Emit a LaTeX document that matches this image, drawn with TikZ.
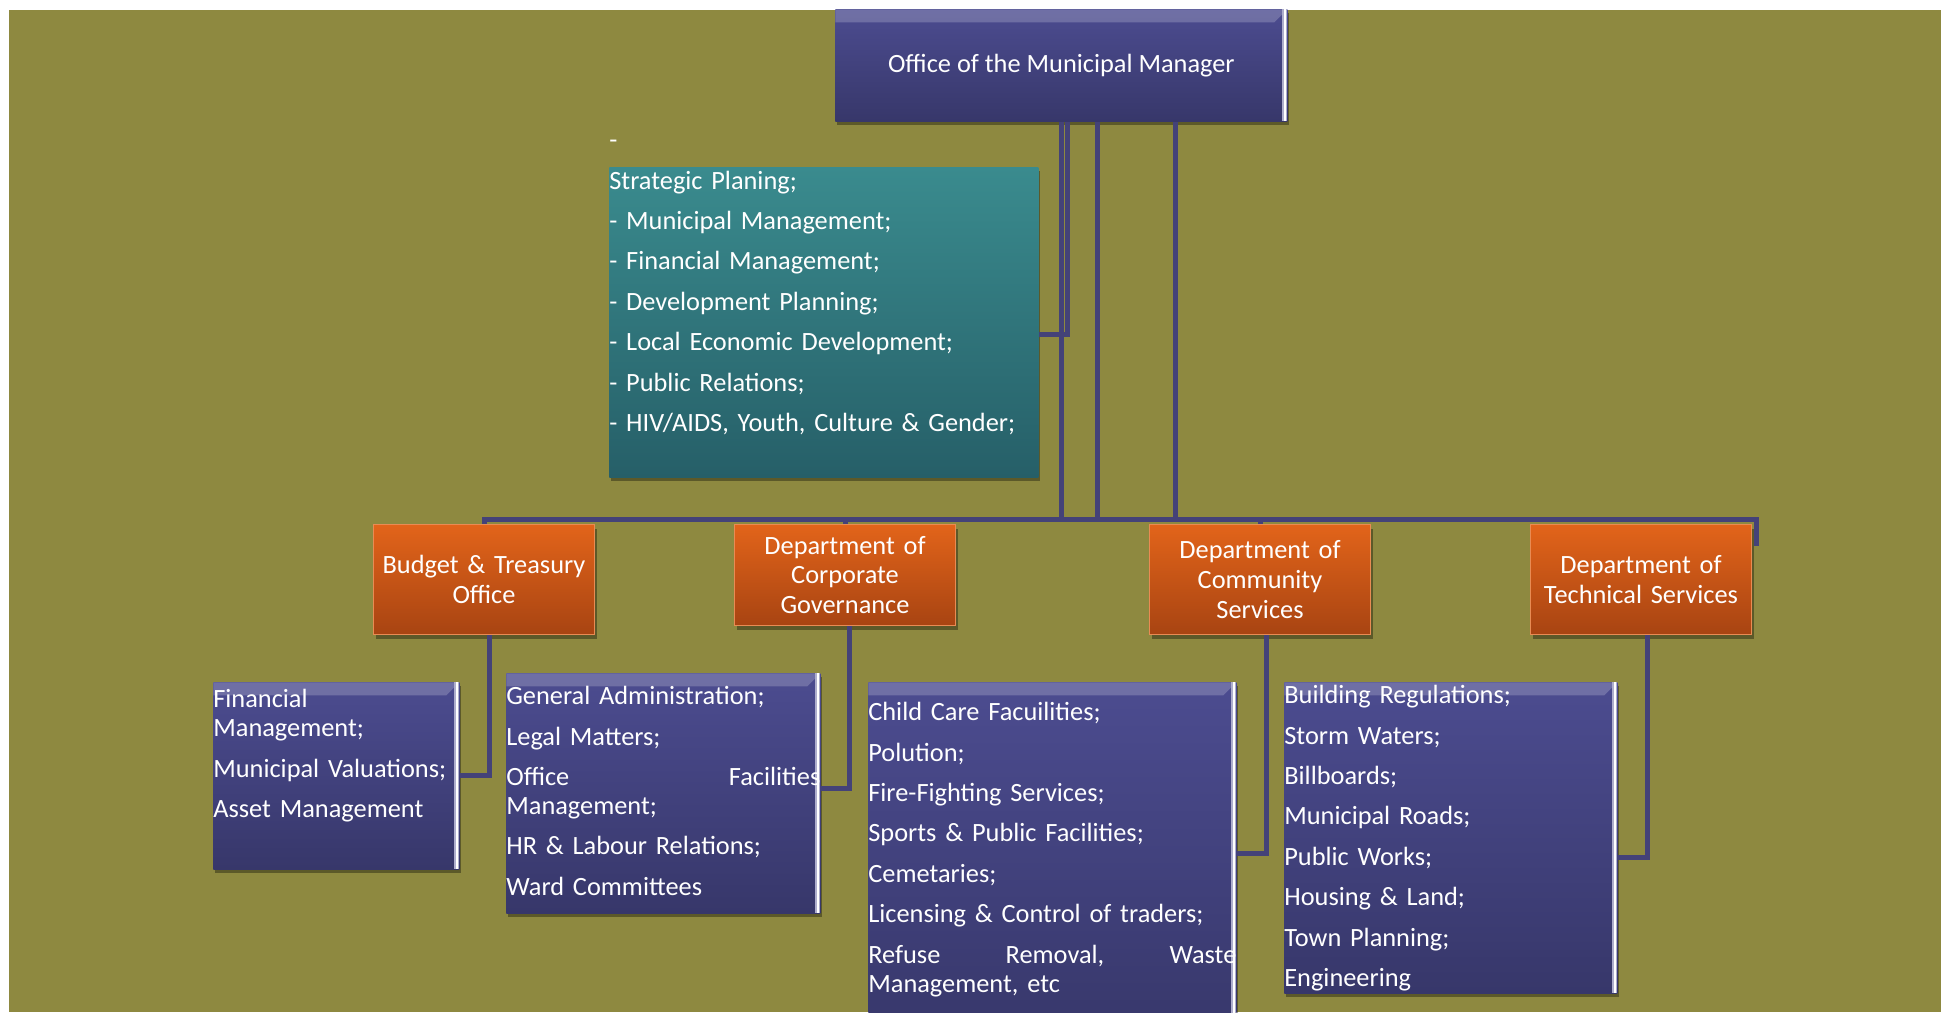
\documentclass[tikz,border=0pt]{standalone}
\usepackage{fontspec}
\setmainfont{Carlito}
\usetikzlibrary{positioning,shadows}

\definecolor{bgolive}{RGB}{142,137,64}
\definecolor{navytop}{RGB}{76,76,144}
\definecolor{navybot}{RGB}{55,55,106}
\definecolor{tealtop}{RGB}{58,139,142}
\definecolor{tealbot}{RGB}{38,95,104}
\definecolor{orangetop}{RGB}{226,100,26}
\definecolor{orangebot}{RGB}{168,68,18}
\definecolor{wirecol}{RGB}{68,66,120}

\newdimen\px
\px=0.02cm

\begin{document}
\begin{tikzpicture}[
    x=0.02cm, y=-0.02cm,
    font=\fontsize{15}{16.5}\selectfont,
    box/.style={rectangle, draw=none, inner sep=0pt, anchor=north west, text=white,
        drop shadow={shadow xshift=2\px, shadow yshift=-4\px, opacity=0.35, fill=black}},
    navybox/.style={box, top color=navytop, bottom color=navybot,
        path picture={
            \fill[white, opacity=0.2] (path picture bounding box.north west)
                -- (path picture bounding box.north east)
                -- ([xshift=-13\px, yshift=-13\px]path picture bounding box.north east)
                -- ([yshift=-13\px]path picture bounding box.north west) -- cycle;
            \fill[navytop!45!white] ([xshift=-5\px]path picture bounding box.north east)
                rectangle (path picture bounding box.south east);
            \fill[white] ([xshift=-3.5\px]path picture bounding box.north east)
                rectangle ([xshift=-1.5\px]path picture bounding box.south east);
        }},
    tealbox/.style={box, top color=tealtop, bottom color=tealbot},
    deptbox/.style={box, top color=orangetop, bottom color=orangebot,
        draw=orangetop!75!white, line width=1\px,
        minimum width=221\px, text width=215\px, align=center,
        font=\fontsize{15}{17}\selectfont},
    duties/.style={anchor=north west, inner sep=0pt, align=left, text=white},
    wire/.style={draw=wirecol, line width=5\px}
]

\useasboundingbox (0,0) rectangle (1941,1012);
\fill[bgolive] (9,10) rectangle (1941,1012);

% Top office
\node[navybox, minimum width=452\px, minimum height=112\px] (mm) at (835,9) {Office of the Municipal Manager};

% Strategic unit
\node[tealbox, minimum width=429\px, minimum height=310\px] (sp) at (609,167) {};
\node[duties, text width=429\px, below right=-39\px and 0pt of sp.north west] (sptext)
    {\strut -\\[6.5pt] Strategic Planing;\\[6.5pt] - Municipal Management;\\[6.5pt] - Financial Management;\\[6.5pt]
     - Development Planning;\\[6.5pt] - Local Economic Development;\\[6.5pt] - Public Relations;\\[6.5pt]
     - HIV/AIDS, Youth, Culture \& Gender;};

% Departments
\node[deptbox, minimum height=110\px] (bto) at (373,524) {Budget \& Treasury\\Office};
\node[deptbox, minimum height=101\px] (cgov) at (734,524) {Department of\\Corporate\\Governance};
\node[deptbox, minimum height=110\px] (comm) at (1149,524) {Department of\\Community\\Services};
\node[deptbox, minimum height=110\px] (tech) at (1530,524) {Department of\\Technical Services};

% Functions of each department
\node[navybox, minimum width=246\px, minimum height=187\px] (fin) at (213,682) {};
\node[duties, text width=246\px, below right=5\px and 0pt of fin.north west] (fintext)
    {\strut Financial\\Management;\\[6.5pt] Municipal Valuations;\\[6.5pt] Asset Management};

\node[navybox, minimum width=314\px, minimum height=240\px] (gen) at (506,673) {};
\node[duties, text width=314\px, below right=11\px and 0pt of gen.north west] (gentext)
    {\strut General Administration;\\[6.5pt] Legal Matters;\\[6.5pt] Office \hfill Facilities\\Management;\\[6.5pt]
     HR \& Labour Relations;\\[6.5pt] Ward Committees};

\node[navybox, minimum width=368\px, minimum height=360\px] (child) at (868,682) {};
\node[duties, text width=368\px, below right=18\px and 0pt of child.north west] (childtext)
    {\strut Child Care Facuilities;\\[6.5pt] Polution;\\[6.5pt] Fire-Fighting Services;\\[6.5pt]
     Sports \& Public Facilities;\\[6.5pt] Cemetaries;\\[6.5pt] Licensing \& Control of traders;\\[6.5pt]
     Refuse \hfill Removal, \hfill Waste\\Management, etc};

\node[navybox, minimum width=333\px, minimum height=311\px] (build) at (1284,682) {};
\node[duties, text width=333\px, below right=1\px and 0pt of build.north west] (buildtext)
    {\strut Building Regulations;\\[6.5pt] Storm Waters;\\[6.5pt] Billboards;\\[6.5pt] Municipal Roads;\\[6.5pt]
     Public Works;\\[6.5pt] Housing \& Land;\\[6.5pt] Town Planning;\\[6.5pt] Engineering};

% Connections
\coordinate (bus) at (1061,519.5);
\coordinate (techdrop) at ([xshift=4\px, yshift=-22\px]tech.north east);
\draw[wire] ([xshift=6\px]mm.south) |- ([yshift=-12\px]sp.east);
\draw[wire] (mm.south) |- (bto.north |- bus) -- (bto.north);
\draw[wire] (mm.south |- bus) -| (comm.north);
\draw[wire] ([xshift=36\px]mm.south) |- (cgov.north |- bus) -- (cgov.north);
\draw[wire] ([xshift=114\px]mm.south) |- (techdrop |- bus) -- (techdrop);

\draw[wire] ([xshift=5\px]bto.south) |- (fin.east);
\draw[wire] ([xshift=4.5\px]cgov.south) |- ([yshift=5\px]gen.east);
\draw[wire] ([xshift=6\px]comm.south) |- ([yshift=-171\px]child.north east);
\draw[wire] ([xshift=6.5\px]tech.south) |- ([yshift=-20\px]build.east);

\end{tikzpicture}
\end{document}
